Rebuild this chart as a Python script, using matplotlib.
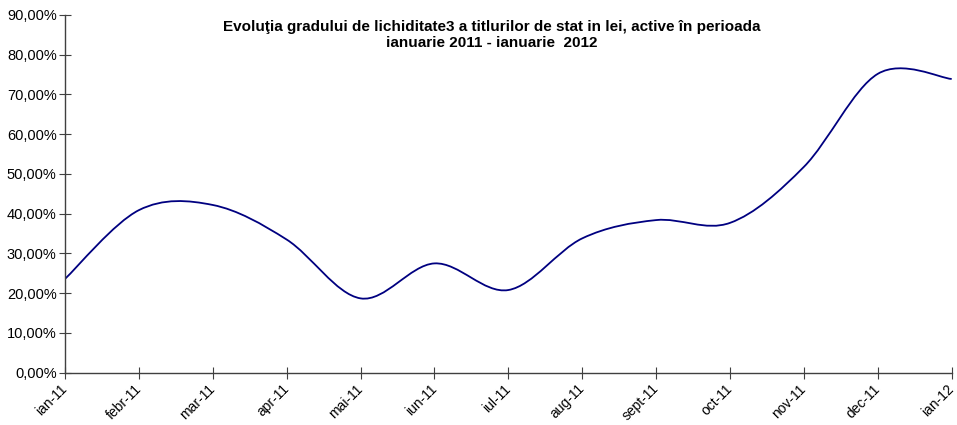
import numpy as np
import matplotlib
matplotlib.use("Agg")
from matplotlib import pyplot as plt
from matplotlib.path import Path
from matplotlib.patches import PathPatch
from matplotlib.ticker import FuncFormatter

plt.rcParams['font.family'] = ['Liberation Sans', 'DejaVu Sans']

# data
months = ['ian-11', 'febr-11', 'mar-11', 'apr-11', 'mai-11', 'iun-11', 'iul-11',
          'aug-11', 'sept-11', 'oct-11', 'nov-11', 'dec-11', 'ian-12']
grad = [0.236, 0.409, 0.422, 0.335, 0.187, 0.275, 0.208,
        0.338, 0.384, 0.377, 0.518, 0.752, 0.739]

title = ("Evoluţia gradului de lichiditate3 a titlurilor de stat in lei, active în perioada\n"
         "ianuarie 2011 - ianuarie  2012")

fig = plt.figure(figsize=(9.57, 4.25), dpi=100)
ax = fig.add_axes([65/957, 1-372.7/425, (951.7-65)/957, (372.7-15)/425])

# smoothed line like Excel (bezier through the points)
x = np.arange(len(grad), dtype=float)
y = np.array(grad)
verts = [(x[0], y[0])]
codes = [Path.MOVETO]
n = len(x)
for i in range(n-1):
    p0 = np.array([x[max(i-1, 0)], y[max(i-1, 0)]])
    p1 = np.array([x[i], y[i]])
    p2 = np.array([x[i+1], y[i+1]])
    p3 = np.array([x[min(i+2, n-1)], y[min(i+2, n-1)]])
    c1 = p1 + (p2 - p0) / 6
    c2 = p2 - (p3 - p1) / 6
    verts += [tuple(c1), tuple(c2), tuple(p2)]
    codes += [Path.CURVE4] * 3
ax.add_patch(PathPatch(Path(verts, codes), facecolor='none', edgecolor='#000080', lw=1.3))

ax.set_xlim(0, 12)
ax.set_ylim(0, 0.9)
ax.set_xticks(x)
ax.set_xticklabels(months, rotation=45, ha='right', va='center', rotation_mode='anchor', fontsize=10)
ax.set_yticks(np.arange(0, 0.91, 0.1))
ax.yaxis.set_major_formatter(FuncFormatter(lambda v, p: ('%.2f%%' % (v*100)).replace('.', ',')))
ax.tick_params(axis='y', labelsize=10.5, direction='inout', length=8, color='#404040', pad=2)
ax.tick_params(axis='x', direction='inout', length=8, color='#404040', pad=6)

for s in ['top', 'right']:
    ax.spines[s].set_visible(False)
for s in ['left', 'bottom']:
    ax.spines[s].set_color('#404040')
    ax.spines[s].set_linewidth(1)

ax.text((492-65)/886.7, 1-5/357.7, title, transform=ax.transAxes, ha='center', va='top',
        fontsize=11, fontweight='bold', linespacing=1.15)

fig.savefig('out.png', dpi=100)
